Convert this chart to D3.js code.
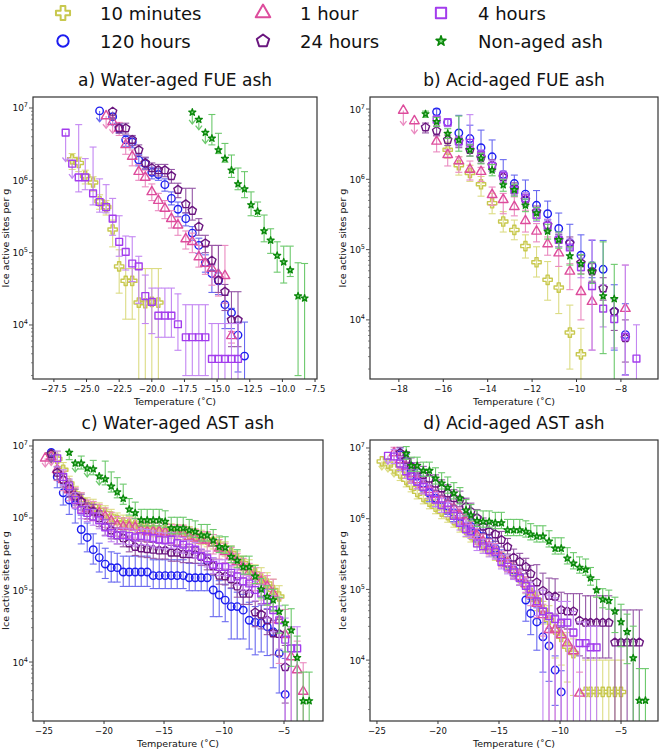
<!DOCTYPE html>
<html><head><meta charset="utf-8">
<script src="https://cdn.jsdelivr.net/npm/d3@7"></script>
<style>body{margin:0;background:#fff}svg{display:block}</style>
</head><body>
<svg id="c" width="661" height="750"></svg>
<script>
// Each point: [temperature °C, log10(ice active sites per g), upper error (decades), lower error (decades), arrow flag]
// ---- a) Water-aged FUE ash
const fueW_m10=[[-26.1,6.29,0.08,0.14],[-25.6,6.24,0.08,0.12],[-25.1,6.06,0.08,0.11],[-24.5,5.97,0.08,0.12],[-24.0,5.71,0.09,0.11],[-23.5,5.63,0.09,0.11],[-23.0,5.32,0.13,0.24],[-22.5,4.81,0.23,0.37],[-22.0,4.61,0.17,0.53],[-21.5,4.61,0.17,0.53],[-21.0,4.31,0.47,2],[-20.5,4.30,0.48,2],[-20.0,4.32,0.46,2],[-19.5,4.31,0.47,2]];
const fueW_h120=[[-24.0,6.96,0,0.15,1],[-23.0,6.88,0,0.13,1],[-22.5,6.72,0.06,0.06],[-22.0,6.56,0.06,0.09],[-21.5,6.53,0.07,0.08],[-21.0,6.28,0.08,0.08],[-20.5,6.23,0.08,0.08],[-20.0,6.11,0.07,0.09],[-19.5,6.08,0.08,0.08],[-19.0,5.94,0.08,0.09],[-18.5,5.75,0.09,0.09],[-18.0,5.60,0.1,0.1],[-17.4,5.47,0.08,0.1],[-16.9,5.27,0.09,0.1],[-16.4,5.10,0.1,0.11],[-15.9,4.86,0.11,0.13],[-15.4,4.71,0.12,0.26],[-14.9,4.61,0.11,0.19],[-14.4,4.28,0.13,0.33],[-13.9,4.17,0.06,0.22],[-13.4,3.86,0.18,0.51],[-12.9,3.57,0.47,2]];
const fueW_h1=[[-23.5,6.89,0,0.17,1],[-23.0,6.81,0,0.16,1],[-22.5,6.72,0.08,0.1],[-22.0,6.49,0.09,0.13],[-21.5,6.33,0.09,0.13],[-21.0,6.12,0.1,0.12],[-20.5,6.04,0.1,0.13],[-20.0,5.84,0.11,0.12],[-19.5,5.72,0.1,0.14],[-19.0,5.61,0.11,0.14],[-18.5,5.47,0.11,0.13],[-18.0,5.38,0.11,0.14],[-17.4,5.19,0.11,0.14],[-16.9,5.15,0.12,0.15],[-16.4,4.94,0.16,0.14],[-15.9,4.85,0.25,0.15],[-15.4,4.78,0.32,0.23],[-14.9,4.70,0.4,0.3],[-14.4,4.68,0.42,0.38],[-13.9,3.85,0.06,0.1]];
const fueW_h24=[[-23.0,6.95,0,0.12,1],[-22.5,6.72,0.06,0.07],[-22.0,6.72,0.07,0.08],[-21.5,6.56,0.06,0.08],[-21.0,6.42,0.07,0.08],[-20.5,6.24,0.08,0.08],[-20.0,6.17,0.07,0.09],[-19.5,6.14,0.08,0.08],[-19.0,6.14,0.08,0.09],[-18.5,6.06,0.09,0.1],[-18.0,5.87,0.09,0.11],[-17.4,5.67,0.22,0.12],[-16.9,5.58,0.31,0.13],[-16.4,5.36,0.11,0.12],[-15.9,5.13,0.11,0.13],[-15.4,4.89,0.21,0.14],[-14.9,4.62,0.48,0.17],[-14.4,4.46,0.10,0.26],[-13.9,4.07,0.39,0.37],[-13.4,4.07,0.39,0.37]];
const fueW_h4=[[-26.6,6.66,0,0.40,1],[-26.1,6.23,0,0.20,1],[-25.6,6.04,0.73,0.20],[-25.1,6.04,0.26,0.17],[-24.5,5.82,0.64,0.16],[-24.0,5.70,0.32,0.14],[-23.5,5.63,0.31,0.08],[-23.0,5.47,0.28,0.23],[-22.5,5.15,0.36,0.20],[-22.0,5.01,0.22,0.25],[-21.5,4.85,0.37,0.25],[-21.0,4.81,0.14,0.51],[-20.5,4.40,0.29,0.38],[-20.0,4.32,0.19,0.44],[-19.5,4.13,0.38,0.30],[-19.0,4.13,0.38,0.30],[-18.5,4.13,0.38,0.30],[-18.0,4.01,0.42,0.36],[-17.4,3.83,0.45,0.53],[-16.9,3.83,0.45,0.53],[-16.4,3.83,0.45,0.53],[-15.9,3.83,0.45,0.53],[-15.4,3.53,0.49,2],[-14.9,3.53,0.49,2],[-14.4,3.53,0.49,2],[-13.9,3.53,0.49,2],[-13.4,3.53,0.49,2]];
const fueW_non=[[-16.9,6.94,0,0.16,1],[-16.4,6.84,0,0.14,1],[-15.9,6.66,0,0.15,1],[-15.4,6.58,0.33,0.09],[-14.9,6.42,0.23,0.05],[-14.4,6.30,0.21,0.05],[-13.9,6.14,0.21,0.1],[-13.4,5.95,0.22,0.08],[-12.9,5.88,0.24,0.12],[-12.4,5.66,0.18,0.15],[-11.9,5.57,0.13,0.07],[-11.4,5.30,0.22,0.15],[-10.9,5.17,0.16,0.18],[-10.4,4.96,0.19,0.23],[-9.9,4.87,0.22,0.29],[-9.4,4.76,0.33,0.09],[-8.8,4.40,0.46,1.1],[-8.3,4.37,0.48,2]];
// ---- b) Acid-aged FUE ash
const fueA_m10=[[-15.8,6.42,0.11,0.12],[-15.3,6.20,0.12,0.14],[-14.8,6.09,0.11,0.12],[-14.3,5.93,0.11,0.17],[-13.8,5.66,0.14,0.15],[-13.3,5.40,0.14,0.15],[-12.8,5.28,0.14,0.14],[-12.3,5.05,0.16,0.17],[-11.8,4.82,0.22,0.21],[-11.3,4.57,0.26,0.29],[-10.8,4.46,0.3,0.37],[-10.3,3.82,0.39,0.52],[-9.8,3.51,0.37,2]];
const fueA_h120=[[-16.3,6.96,0.04,0.06],[-15.8,6.81,0.05,0.06],[-15.3,6.66,0.25,0.08],[-14.8,6.58,0.19,0.08],[-14.3,6.45,0.25,0.08],[-13.8,6.32,0.24,0.08],[-13.3,6.07,0.21,0.08],[-12.8,5.94,0.12,0.08],[-12.3,5.79,0.2,0.08],[-11.8,5.63,0.21,0.08],[-11.3,5.51,0.18,0.09],[-10.8,5.30,0.22,0.09],[-10.3,5.10,0.26,0.09],[-9.8,4.92,0.29,0.12],[-9.3,4.77,0.36,0.17],[-8.8,4.72,0.41,0.32],[-8.3,4.12,0.38,0.55],[-7.8,3.79,0.44,0.57]];
const fueA_h1=[[-17.8,6.98,0,0.21,1],[-17.3,6.83,0,0.18,1],[-16.3,6.54,0.08,0.15],[-15.8,6.35,0.07,0.16],[-15.3,6.26,0.06,0.16],[-14.8,6.14,0.12,0.15],[-14.3,6.11,0.06,0.14],[-13.8,5.78,0.11,0.15],[-13.3,5.71,0.09,0.2],[-12.8,5.61,0.14,0.13],[-12.3,5.41,0.15,0.16],[-11.8,5.26,0.11,0.15],[-11.3,5.08,0.1,0.16],[-10.8,4.95,0.16,0.19],[-10.3,4.69,0.11,0.26],[-9.8,4.40,0.26,0.4],[-9.3,4.26,0.17,0.69],[-7.8,4.16,0.62,0.95]];
const fueA_h24=[[-16.8,6.74,0.06,0.08],[-16.3,6.69,0.07,0.07],[-15.8,6.56,0.07,0.08],[-15.3,6.54,0.07,0.09],[-14.8,6.42,0.07,0.09],[-14.3,6.31,0.07,0.08],[-13.8,6.20,0.08,0.08],[-13.3,6.03,0.07,0.08],[-12.8,5.87,0.08,0.08],[-12.3,5.71,0.08,0.09],[-11.8,5.54,0.08,0.09],[-11.3,5.35,0.08,0.09],[-10.8,5.14,0.08,0.1],[-10.3,5.09,0.09,0.1],[-9.8,4.81,0.11,0.11],[-9.3,4.69,0.11,0.14],[-8.8,4.45,0.15,0.17],[-8.3,4.12,0.18,0.27],[-7.8,3.74,0.26,0.34]];
const fueA_h4=[[-16.3,6.85,0.05,0.05],[-15.8,6.81,0.05,0.06],[-15.3,6.54,0.06,0.07],[-14.8,6.52,0.4,0.07],[-14.3,6.35,0.07,0.08],[-13.8,6.19,0.08,0.08],[-13.3,6.05,0.07,0.08],[-12.8,5.85,0.08,0.08],[-12.3,5.73,0.08,0.08],[-11.8,5.49,0.09,0.09],[-11.3,5.34,0.09,0.1],[-10.8,5.14,0.1,0.1],[-10.3,5.03,0.12,0.11],[-9.8,4.75,0.13,0.15],[-9.3,4.48,0.66,0.91],[-8.8,4.16,0.34,0.26],[-8.3,4.01,0.29,0.41],[-7.8,3.76,1.02,0.55],[-7.3,3.45,0.48,2]];
const fueA_non=[[-16.8,6.93,0.04,0.05],[-16.3,6.82,0.06,0.07],[-15.8,6.65,0.07,0.07],[-15.3,6.56,0.34,0.16],[-14.8,6.42,0.07,0.09],[-14.3,6.30,0.07,0.08],[-13.8,6.13,0.08,0.08],[-13.3,5.92,0.08,0.09],[-12.8,5.85,0.08,0.09],[-12.3,5.63,0.09,0.09],[-11.8,5.52,0.08,0.1],[-11.3,5.26,0.1,0.11],[-10.8,5.14,0.11,0.12],[-10.3,4.91,0.13,0.13],[-9.8,4.80,0.13,0.15],[-9.3,4.69,0.13,0.17],[-8.8,4.34,0.77,0.82],[-8.3,4.30,0.49,2]];
// ---- c) Water-aged AST ash
const astW_m10=[[-24.4,6.88,0,0.12,1],[-23.9,6.82,0.1,0.1],[-23.4,6.67,0.1,0.1],[-22.9,6.48,0.1,0.1],[-22.4,6.34,0.1,0.1],[-21.9,6.25,0.1,0.1],[-21.4,6.18,0.1,0.1],[-20.9,6.16,0.1,0.1],[-20.4,6.11,0.1,0.1],[-19.9,6.07,0.1,0.1],[-19.4,6.02,0.1,0.1],[-18.9,5.97,0.1,0.1],[-18.4,5.94,0.1,0.1],[-17.9,5.92,0.1,0.1],[-17.4,5.90,0.1,0.1],[-16.9,5.88,0.1,0.1],[-16.4,5.86,0.1,0.1],[-15.9,5.84,0.1,0.1],[-15.4,5.83,0.1,0.1],[-14.9,5.83,0.1,0.1],[-14.4,5.82,0.1,0.1],[-13.9,5.81,0.1,0.1],[-13.4,5.80,0.1,0.1],[-12.9,5.78,0.1,0.1],[-12.4,5.75,0.1,0.1],[-11.9,5.73,0.1,0.1],[-11.4,5.70,0.1,0.1],[-10.9,5.67,0.1,0.1],[-10.4,5.63,0.1,0.1],[-9.9,5.57,0.1,0.1],[-9.4,5.51,0.1,0.1],[-8.9,5.44,0.1,0.12],[-8.4,5.37,0.1,0.12],[-7.9,5.30,0.12,0.15],[-7.4,5.23,0.12,0.15],[-6.9,5.16,0.15,0.3],[-6.4,5.09,0.15,0.3],[-5.9,5.00,0.15,0.3],[-5.4,4.91,0.15,0.3]];
const astW_h120=[[-24.4,6.91,0,0.12,1],[-23.9,6.57,0.1,0.15],[-23.4,6.35,0.12,0.17],[-22.9,6.25,0.15,0.2],[-22.4,6.18,0.15,0.25],[-21.9,5.84,0.2,0.2],[-21.4,5.73,0.2,0.2],[-20.9,5.56,0.22,0.2],[-20.4,5.45,0.2,0.2],[-19.9,5.36,0.22,0.2],[-19.4,5.31,0.22,0.2],[-18.9,5.31,0.2,0.2],[-18.4,5.25,0.22,0.2],[-17.9,5.25,0.22,0.2],[-17.4,5.25,0.22,0.2],[-16.9,5.25,0.22,0.2],[-16.4,5.25,0.22,0.2],[-15.9,5.20,0.22,0.18],[-15.4,5.20,0.22,0.18],[-14.9,5.20,0.22,0.18],[-14.4,5.20,0.22,0.18],[-13.9,5.20,0.22,0.18],[-13.4,5.20,0.22,0.18],[-12.9,5.17,0.2,0.18],[-12.4,5.17,0.2,0.18],[-11.9,5.17,0.2,0.18],[-11.4,5.17,0.2,0.18],[-10.9,5.00,0.2,0.37],[-10.4,4.93,0.2,0.3],[-9.9,4.86,0.22,0.3],[-9.4,4.77,0.25,0.45],[-8.9,4.77,0.2,0.45],[-8.4,4.72,0.22,0.4],[-7.9,4.58,0.25,0.4],[-7.4,4.55,0.22,0.45],[-6.9,4.54,0.25,0.4],[-6.4,4.49,0.25,0.4],[-5.9,4.42,0.3,0.5],[-5.4,4.12,0.3,0.55],[-4.9,3.55,0.5,2]];
const astW_h1=[[-24.9,6.83,0,0.12,1],[-24.4,6.85,0,0.12,1],[-23.9,6.67,0.12,0.15],[-23.4,6.53,0.12,0.15],[-22.9,6.39,0.12,0.15],[-22.4,6.30,0.12,0.15],[-21.9,6.23,0.12,0.15],[-21.4,6.13,0.12,0.15],[-20.9,6.11,0.12,0.15],[-20.4,6.07,0.12,0.15],[-19.9,6.02,0.12,0.15],[-19.4,5.96,0.12,0.15],[-18.9,5.90,0.12,0.15],[-18.4,5.88,0.12,0.15],[-17.9,5.88,0.12,0.15],[-17.4,5.87,0.12,0.15],[-16.9,5.83,0.12,0.15],[-16.4,5.81,0.12,0.15],[-15.9,5.81,0.12,0.15],[-15.4,5.81,0.12,0.15],[-14.9,5.80,0.12,0.15],[-14.4,5.79,0.12,0.15],[-13.9,5.78,0.12,0.15],[-13.4,5.78,0.12,0.15],[-12.9,5.74,0.12,0.15],[-12.4,5.72,0.12,0.15],[-11.9,5.69,0.12,0.15],[-11.4,5.69,0.12,0.15],[-10.9,5.65,0.12,0.15],[-10.4,5.58,0.12,0.15],[-9.9,5.53,0.12,0.15],[-9.4,5.47,0.12,0.15],[-8.9,5.39,0.12,0.15],[-8.4,5.32,0.12,0.15],[-7.9,5.25,0.12,0.15],[-7.4,5.19,0.12,0.2],[-6.9,5.12,0.12,0.2],[-6.4,5.05,0.15,0.25],[-5.9,4.95,0.2,0.4],[-5.4,4.58,0.3,0.6],[-4.9,4.38,0.35,2],[-4.4,4.07,0.4,2],[-3.9,3.89,0.4,2],[-3.4,3.59,0.4,2]];
const astW_h24=[[-24.4,6.89,0,0.12,1],[-23.9,6.63,0.08,0.1],[-23.4,6.53,0.08,0.1],[-22.9,6.41,0.1,0.12],[-22.4,6.30,0.1,0.12],[-21.9,6.23,0.1,0.12],[-21.4,6.11,0.1,0.12],[-20.9,6.09,0.1,0.12],[-20.4,6.00,0.1,0.12],[-19.9,5.88,0.1,0.12],[-19.4,5.83,0.1,0.12],[-18.9,5.76,0.1,0.12],[-18.4,5.72,0.1,0.12],[-17.9,5.65,0.1,0.12],[-17.4,5.60,0.1,0.12],[-16.9,5.58,0.1,0.12],[-16.4,5.57,0.1,0.12],[-15.9,5.56,0.1,0.12],[-15.4,5.55,0.1,0.12],[-14.9,5.55,0.1,0.12],[-14.4,5.52,0.1,0.12],[-13.9,5.52,0.1,0.12],[-13.4,5.50,0.1,0.12],[-12.9,5.50,0.1,0.12],[-12.4,5.49,0.1,0.12],[-11.9,5.46,0.1,0.12],[-11.4,5.40,0.1,0.12],[-10.9,5.33,0.1,0.12],[-10.4,5.20,0.1,0.12],[-9.9,5.19,0.1,0.12],[-9.4,5.15,0.1,0.12],[-8.9,5.05,0.12,0.15],[-8.4,4.95,0.12,0.15],[-7.9,4.95,0.12,0.15],[-7.4,4.69,0.15,0.2],[-6.9,4.66,0.15,0.2],[-6.4,4.58,0.15,0.2],[-5.9,4.40,0.18,0.3],[-5.4,4.39,0.2,0.3],[-4.9,3.93,0.3,0.5]];
const astW_h4=[[-23.9,6.83,0.1,0.12],[-23.4,6.57,0.1,0.12],[-22.9,6.44,0.1,0.12],[-22.4,6.25,0.1,0.12],[-21.9,6.11,0.1,0.12],[-21.4,6.07,0.1,0.12],[-20.9,6.02,0.1,0.12],[-20.4,5.97,0.1,0.12],[-19.9,5.87,0.1,0.12],[-19.4,5.79,0.1,0.12],[-18.9,5.76,0.1,0.12],[-18.4,5.76,0.1,0.12],[-17.9,5.75,0.1,0.12],[-17.4,5.73,0.1,0.12],[-16.9,5.75,0.1,0.12],[-16.4,5.74,0.1,0.12],[-15.9,5.72,0.1,0.12],[-15.4,5.70,0.1,0.12],[-14.9,5.69,0.1,0.12],[-14.4,5.70,0.1,0.12],[-13.9,5.65,0.1,0.12],[-13.4,5.63,0.1,0.12],[-12.9,5.59,0.1,0.12],[-12.4,5.56,0.1,0.12],[-11.9,5.47,0.1,0.12],[-11.4,5.44,0.1,0.12],[-10.9,5.35,0.1,0.12],[-10.4,5.32,0.1,0.12],[-9.9,5.32,0.1,0.12],[-9.4,5.24,0.1,0.12],[-8.9,5.19,0.1,0.12],[-8.4,5.12,0.1,0.12],[-7.9,5.09,0.1,0.12],[-7.4,5.00,0.12,0.15],[-6.9,4.95,0.12,0.15],[-6.4,4.86,0.15,0.25],[-5.9,4.72,0.2,0.3],[-5.4,4.58,0.2,0.4],[-4.9,4.31,0.3,2],[-4.4,4.19,0.3,2],[-3.9,4.19,0.3,2]];
const astW_non=[[-22.9,6.91,0,0.1],[-22.4,6.76,0,0.12,1],[-21.9,6.76,0.1,0.08],[-21.4,6.69,0,0.12,1],[-20.9,6.68,0.12,0.08],[-20.4,6.58,0,0.12,1],[-19.9,6.54,0.25,0.08],[-19.4,6.44,0.2,0.08],[-18.9,6.36,0.2,0.08],[-18.4,6.27,0.2,0.08],[-17.9,6.12,0.15,0.08],[-17.4,6.07,0.15,0.08],[-16.9,5.97,0.15,0.08],[-16.4,5.97,0.15,0.08],[-15.9,5.97,0.15,0.08],[-15.4,5.97,0.15,0.08],[-14.9,5.95,0.15,0.08],[-14.4,5.86,0.15,0.08],[-13.9,5.86,0.15,0.08],[-13.4,5.86,0.15,0.08],[-12.9,5.83,0.15,0.08],[-12.4,5.81,0.15,0.08],[-11.9,5.76,0.15,0.08],[-11.4,5.76,0.15,0.08],[-10.9,5.69,0.15,0.08],[-10.4,5.60,0.15,0.08],[-9.9,5.59,0.15,0.08],[-9.4,5.46,0.15,0.08],[-8.9,5.41,0.15,0.1],[-8.4,5.32,0.15,0.1],[-7.9,5.32,0.15,0.1],[-7.4,5.19,0.15,0.1],[-6.9,5.01,0.15,0.12],[-6.4,4.91,0.15,0.12],[-5.9,4.86,0.15,0.15],[-5.4,4.70,0.2,0.3],[-4.9,4.54,0.25,0.4],[-4.4,4.44,0.3,0.5],[-3.9,4.06,0.3,1],[-3.4,3.46,0.4,2],[-2.9,3.46,0.4,2]];
// ---- d) Acid-aged AST ash
const astA_m10=[[-24.6,6.81,0,0.12,1],[-24.1,6.78,0,0.12,1],[-23.6,6.71,0,0.12,1],[-23.1,6.64,0.1,0.1],[-22.6,6.55,0.1,0.1],[-22.2,6.48,0.1,0.1],[-21.7,6.38,0.1,0.1],[-21.2,6.31,0.1,0.1],[-20.7,6.24,0.1,0.1],[-20.2,6.17,0.1,0.1],[-19.7,6.10,0.1,0.1],[-19.2,6.05,0.1,0.1],[-18.7,5.98,0.1,0.1],[-18.2,5.91,0.1,0.1],[-17.7,5.84,0.1,0.1],[-17.3,5.77,0.1,0.1],[-16.8,5.70,0.1,0.1],[-16.3,5.63,0.1,0.1],[-15.8,5.57,0.1,0.1],[-15.3,5.51,0.1,0.1],[-14.8,5.42,0.1,0.1],[-14.3,5.35,0.1,0.1],[-13.8,5.25,0.1,0.1],[-13.3,5.16,0.1,0.1],[-12.8,5.06,0.1,0.12],[-12.4,4.95,0.1,0.12],[-11.9,4.85,0.1,0.15],[-11.4,4.71,0.12,0.2],[-10.9,4.57,0.2,0.4],[-10.4,4.43,0.2,0.4],[-9.9,4.33,0.2,0.4],[-9.4,4.19,0.2,0.5],[-8.9,4.10,0.2,0.6],[-7.9,3.55,0.45,2],[-7.5,3.55,0.45,2],[-7.0,3.55,0.45,2],[-6.5,3.55,0.45,2],[-6.0,3.55,0.45,2],[-5.5,3.55,0.45,2],[-5.0,3.55,0.45,2]];
const astA_h120=[[-23.1,6.90,0.1,0.12],[-22.6,6.81,0.1,0.12],[-22.2,6.69,0.1,0.12],[-21.7,6.60,0.1,0.12],[-21.2,6.50,0.1,0.12],[-20.7,6.36,0.1,0.12],[-20.2,6.29,0.1,0.12],[-19.7,6.27,0.1,0.12],[-19.2,6.18,0.1,0.12],[-18.7,6.08,0.1,0.12],[-18.2,6.03,0.1,0.12],[-17.7,5.99,0.1,0.12],[-17.3,5.89,0.1,0.12],[-16.8,5.79,0.1,0.12],[-16.3,5.75,0.1,0.12],[-15.8,5.68,0.1,0.12],[-15.3,5.58,0.1,0.12],[-14.8,5.46,0.1,0.12],[-14.3,5.37,0.1,0.12],[-13.8,5.28,0.1,0.12],[-13.3,5.18,0.1,0.12],[-12.8,4.85,0.15,0.3],[-12.4,4.66,0.2,0.3],[-11.9,4.54,0.2,0.4],[-11.4,4.33,0.2,0.5],[-10.9,4.20,0.25,0.5],[-10.4,3.86,0.2,0.5],[-9.9,3.55,0.3,2]];
const astA_h1=[[-23.6,6.93,0.08,0.1],[-23.1,6.83,0.1,0.12],[-22.6,6.74,0.1,0.12],[-22.2,6.64,0.1,0.12],[-21.7,6.55,0.1,0.12],[-21.2,6.48,0.1,0.12],[-20.7,6.41,0.1,0.12],[-20.2,6.34,0.1,0.12],[-19.7,6.27,0.1,0.12],[-19.2,6.21,0.1,0.12],[-18.7,6.15,0.1,0.12],[-18.2,6.05,0.1,0.12],[-17.7,5.96,0.1,0.12],[-17.3,5.86,0.1,0.12],[-16.8,5.76,0.1,0.12],[-16.3,5.68,0.1,0.12],[-15.8,5.61,0.1,0.12],[-15.3,5.55,0.1,0.12],[-14.8,5.44,0.1,0.12],[-14.3,5.37,0.1,0.12],[-13.8,5.28,0.1,0.12],[-13.3,5.18,0.1,0.12],[-12.8,5.08,0.1,0.12],[-12.4,4.92,0.12,0.15],[-11.9,4.80,0.12,0.2],[-11.4,4.64,0.15,0.3],[-10.9,4.43,0.2,2],[-10.4,4.43,0.2,2],[-9.9,4.36,0.2,2],[-9.4,4.24,0.2,2],[-8.9,4.13,0.2,2],[-8.4,3.53,0.3,2]];
const astA_h24=[[-23.1,6.93,0.08,0.1],[-22.6,6.83,0.12,0.1],[-22.2,6.74,0.12,0.1],[-21.7,6.67,0.12,0.1],[-21.2,6.62,0.12,0.1],[-20.7,6.57,0.12,0.1],[-20.2,6.50,0.12,0.1],[-19.7,6.43,0.12,0.1],[-19.2,6.36,0.12,0.1],[-18.7,6.29,0.12,0.1],[-18.2,6.27,0.12,0.1],[-17.7,6.17,0.12,0.1],[-17.3,6.10,0.12,0.1],[-16.8,6.01,0.12,0.1],[-16.3,5.89,0.12,0.1],[-15.8,5.82,0.12,0.1],[-15.3,5.78,0.12,0.1],[-14.8,5.70,0.12,0.1],[-14.3,5.60,0.12,0.1],[-13.8,5.45,0.12,0.1],[-13.3,5.39,0.12,0.1],[-12.8,5.32,0.12,0.1],[-12.4,5.22,0.12,0.1],[-11.9,5.10,0.25,0.25],[-11.4,4.98,0.25,0.25],[-10.9,4.91,0.25,0.25],[-10.4,4.90,0.25,0.25],[-9.9,4.71,0.25,0.25],[-9.4,4.69,0.25,0.25],[-8.9,4.69,0.25,0.25],[-8.4,4.56,0.38,0.5],[-7.9,4.53,0.38,0.5],[-7.5,4.53,0.38,0.5],[-7.0,4.53,0.38,0.5],[-6.5,4.53,0.38,0.5],[-6.0,4.53,0.38,0.5],[-5.5,4.25,0.46,2],[-5.0,4.25,0.46,2],[-4.5,4.25,0.46,2],[-4.0,4.25,0.46,2],[-3.5,4.25,0.46,2]];
const astA_h4=[[-24.1,6.89,0,0.12,1],[-23.6,6.88,0.1,0.1],[-23.1,6.78,0.1,0.1],[-22.6,6.67,0.1,0.1],[-22.2,6.60,0.1,0.1],[-21.7,6.52,0.1,0.1],[-21.2,6.45,0.1,0.1],[-20.7,6.38,0.1,0.1],[-20.2,6.27,0.1,0.1],[-19.7,6.19,0.1,0.1],[-19.2,6.13,0.1,0.1],[-18.7,6.04,0.1,0.1],[-18.2,5.94,0.1,0.1],[-17.7,5.85,0.1,0.1],[-17.3,5.82,0.1,0.1],[-16.8,5.65,0.1,0.1],[-16.3,5.61,0.1,0.1],[-15.8,5.56,0.1,0.1],[-15.3,5.53,0.1,0.1],[-14.8,5.39,0.1,0.1],[-14.3,5.32,0.1,0.1],[-13.8,5.24,0.1,0.1],[-13.3,5.16,0.1,0.1],[-12.8,5.05,0.1,0.1],[-12.4,5.00,0.1,0.1],[-11.9,4.83,0.15,0.2],[-11.4,4.69,0.3,2],[-10.9,4.62,0.3,2],[-10.4,4.58,0.3,2],[-9.9,4.53,0.3,2],[-9.4,4.53,0.3,2],[-8.9,4.39,0.3,2],[-8.4,4.24,0.3,2],[-7.9,4.24,0.3,2],[-7.5,4.18,0.3,2],[-7.0,4.18,0.3,2]];
const astA_non=[[-22.6,6.92,0.1,0.08],[-22.2,6.75,0.12,0.08],[-21.7,6.75,0.12,0.08],[-21.2,6.68,0.12,0.08],[-20.7,6.68,0.12,0.08],[-20.2,6.57,0.15,0.08],[-19.7,6.50,0.15,0.08],[-19.2,6.44,0.15,0.08],[-18.7,6.36,0.15,0.08],[-18.2,6.29,0.15,0.08],[-17.7,6.12,0.15,0.08],[-17.3,6.05,0.15,0.08],[-16.8,5.97,0.15,0.08],[-16.3,5.96,0.15,0.08],[-15.8,5.96,0.15,0.08],[-15.3,5.94,0.15,0.08],[-14.8,5.94,0.15,0.08],[-14.3,5.84,0.15,0.08],[-13.8,5.84,0.15,0.08],[-13.3,5.84,0.15,0.08],[-12.8,5.82,0.15,0.08],[-12.4,5.78,0.15,0.08],[-11.9,5.75,0.15,0.08],[-11.4,5.75,0.15,0.08],[-10.9,5.68,0.15,0.08],[-10.4,5.58,0.15,0.08],[-9.9,5.58,0.15,0.08],[-9.4,5.44,0.15,0.08],[-8.9,5.37,0.15,0.08],[-8.4,5.31,0.15,0.08],[-7.9,5.28,0.15,0.08],[-7.5,5.16,0.15,0.1],[-7.0,4.99,0.15,0.1],[-6.5,4.86,0.15,0.12],[-6.0,4.84,0.15,0.12],[-5.5,4.69,0.2,0.3],[-5.0,4.54,0.25,0.35],[-4.5,4.40,0.25,0.45],[-4.0,4.03,0.45,2],[-3.5,3.43,0.45,2],[-3.0,3.43,0.45,2]];

const seriesKeys=["m10","h120","h1","h24","h4","non"];
const seriesNames=["10 minutes","120 hours","1 hour","24 hours","4 hours","Non-aged ash"];
const panelTitles=["a) Water-aged FUE ash","b) Acid-aged FUE ash","c) Water-aged AST ash","d) Acid-aged AST ash"];
const ticksAB=[[-27.5,-25,-22.5,-20,-17.5,-15,-12.5,-10,-7.5],[-18,-16,-14,-12,-10,-8]];
const ticksCD=[-25,-20,-15,-10,-5];
const yTickExp=[4,5,6,7];

const panelData=[
 {m10:fueW_m10,h120:fueW_h120,h1:fueW_h1,h24:fueW_h24,h4:fueW_h4,non:fueW_non},
 {m10:fueA_m10,h120:fueA_h120,h1:fueA_h1,h24:fueA_h24,h4:fueA_h4,non:fueA_non},
 {m10:astW_m10,h120:astW_h120,h1:astW_h1,h24:astW_h24,h4:astW_h4,non:astW_non},
 {m10:astA_m10,h120:astA_h120,h1:astA_h1,h24:astA_h24,h4:astA_h4,non:astA_non}];

// ---- styling / layout
const FONT='"DejaVu Sans", Verdana, sans-serif';
const col={m10:"#c8c84e",h120:"#1d1df0",h1:"#dd4c9c",h24:"#6a167f",h4:"#a33ced",non:"#0a870a"};
const barCol={m10:"#dcdc84",h120:"#6a6af0",h1:"#ea8ac0",h24:"#9456a6",h4:"#c386f2",non:"#6cc96c"};
const pent={draw(ctx,size){const r=Math.sqrt(size/(2.5*Math.sin(2*Math.PI/5)));for(let i=0;i<5;i++){const a=-Math.PI/2+i*2*Math.PI/5;const px=r*Math.cos(a),py=r*Math.sin(a);i?ctx.lineTo(px,py):ctx.moveTo(px,py);}ctx.closePath();}};
const symT={m10:d3.symbolCross,h120:d3.symbolCircle,h1:d3.symbolTriangle,h24:pent,h4:d3.symbolSquare,non:d3.symbolStar};
const symS={m10:48,h120:44,h1:40,h24:44,h4:46,non:15};
const starFill="#7fd87f";

const layout=[
 {x0:33,x1:317,y0:97,y1:379,xd:[-29.1,-7.35],yd:[3.253,7.152],ticks:ticksAB[0],fmt:d3.format(".1f")},
 {x0:370,x1:658,y0:97,y1:379,xd:[-19.3,-6.33],yd:[3.159,7.171],ticks:ticksAB[1],fmt:d3.format("d")},
 {x0:33,x1:323,y0:440,y1:721,xd:[-25.92,-1.75],yd:[3.181,7.083],ticks:ticksCD,fmt:d3.format("d")},
 {x0:370,x1:658,y0:440,y1:721,xd:[-25.57,-1.97],yd:[3.139,7.113],ticks:ticksCD,fmt:d3.format("d")}];

const svg=d3.select("#c");
svg.append("rect").attr("width",661).attr("height",750).attr("fill","#fff");

layout.forEach((L,pi)=>{
  const g=svg.append("g");
  const x=d3.scaleLinear().domain(L.xd).range([L.x0,L.x1]);
  const y=d3.scaleLog().domain([10**L.yd[0],10**L.yd[1]]).range([L.y1,L.y0]);
  const cid="clip"+pi;
  svg.append("clipPath").attr("id",cid).append("rect").attr("x",L.x0).attr("y",L.y0).attr("width",L.x1-L.x0).attr("height",L.y1-L.y0);
  g.append("text").attr("x",(L.x0+L.x1)/2).attr("y",L.y0-11).attr("text-anchor","middle")
   .attr("font-family",FONT).attr("font-size",17).attr("fill","#111").text(panelTitles[pi]);
  const mg=g.append("g").attr("clip-path",`url(#${cid})`);
  seriesKeys.forEach(k=>{
    const pts=panelData[pi][k];
    const eg=mg.append("g").attr("stroke",barCol[k]).attr("stroke-width",1.1).attr("fill","none");
    pts.forEach(p=>{
      const px=x(p[0]),ph=y(10**(p[1]+p[2])),pl=y(10**(p[1]-p[3]));
      eg.append("line").attr("x1",px).attr("x2",px).attr("y1",ph).attr("y2",pl);
      if(p[2]>0) eg.append("line").attr("x1",px-3.5).attr("x2",px+3.5).attr("y1",ph).attr("y2",ph);
      if(p[4]) eg.append("path").attr("d",`M${px-3.2},${pl-4}L${px},${pl}L${px+3.2},${pl-4}`).attr("stroke-width",1.3);
      else eg.append("line").attr("x1",px-3.5).attr("x2",px+3.5).attr("y1",pl).attr("y2",pl);
    });
    const sym=d3.symbol().type(symT[k]).size(symS[k]);
    mg.append("g").selectAll("path").data(pts).join("path")
      .attr("transform",p=>`translate(${x(p[0])},${y(10**p[1])})`)
      .attr("d",sym())
      .attr("fill",k==="non"?starFill:"none")
      .attr("stroke",col[k]).attr("stroke-width",k==="non"?1.3:1.4).attr("stroke-linejoin","round");
  });
  g.append("rect").attr("x",L.x0).attr("y",L.y0).attr("width",L.x1-L.x0).attr("height",L.y1-L.y0)
   .attr("fill","none").attr("stroke","#333").attr("stroke-width",1.2);
  L.ticks.forEach(t=>{
    g.append("line").attr("x1",x(t)).attr("x2",x(t)).attr("y1",L.y1).attr("y2",L.y1+3).attr("stroke","#333");
    g.append("text").attr("x",x(t)).attr("y",L.y1+13).attr("text-anchor","middle").attr("font-family",FONT)
     .attr("font-size",8.5).attr("fill","#111").text(L.fmt(t).replace("-","\u2212"));
  });
  g.append("text").attr("x",(L.x0+L.x1)/2).attr("y",L.y1+26).attr("text-anchor","middle").attr("font-family",FONT)
   .attr("font-size",9.5).attr("fill","#111").text("Temperature (\u02DAC)");
  for(let e=3;e<=7;e++){
    for(let m=1;m<10;m++){
      const v=m*10**e; const ly=Math.log10(v);
      if(ly<L.yd[0]||ly>L.yd[1]) continue;
      const yy=y(v);
      g.append("line").attr("x1",L.x0).attr("x2",L.x0-(m===1?4:2)).attr("y1",yy).attr("y2",yy).attr("stroke","#555").attr("stroke-width",m===1?1:0.7);
    }
  }
  yTickExp.forEach(e=>{
    const t=g.append("text").attr("x",L.x0-5).attr("y",y(10**e)+3.5).attr("text-anchor","end")
      .attr("font-family",FONT).attr("font-size",9).attr("fill","#111");
    t.append("tspan").text("10");
    t.append("tspan").attr("dy",-4).attr("font-size",6.5).text(e);
  });
  g.append("text").attr("transform",`translate(${L.x0-24},${(L.y0+L.y1)/2}) rotate(-90)`).attr("text-anchor","middle")
   .attr("font-family",FONT).attr("font-size",9.5).attr("fill","#111").text("Ice active sites per g");
});

// legend (matplotlib column order)
const legX=[63,263,441], legY=[13,41];
seriesKeys.forEach((k,i)=>{
  const c=Math.floor(i/2), r=i%2;
  const lx=legX[c], ly=legY[r];
  svg.append("path").attr("transform",`translate(${lx},${ly})`).attr("d",d3.symbol().type(symT[k]).size(k==="non"?30:symS[k]*2.3)())
    .attr("fill",k==="non"?starFill:"none").attr("stroke",col[k]).attr("stroke-width",k==="non"?1.6:2).attr("stroke-linejoin","round");
  svg.append("text").attr("x",lx+37).attr("y",ly+6.5).attr("font-family",FONT).attr("font-size",18).attr("fill","#111").text(seriesNames[i]);
});
</script>
</body></html>
